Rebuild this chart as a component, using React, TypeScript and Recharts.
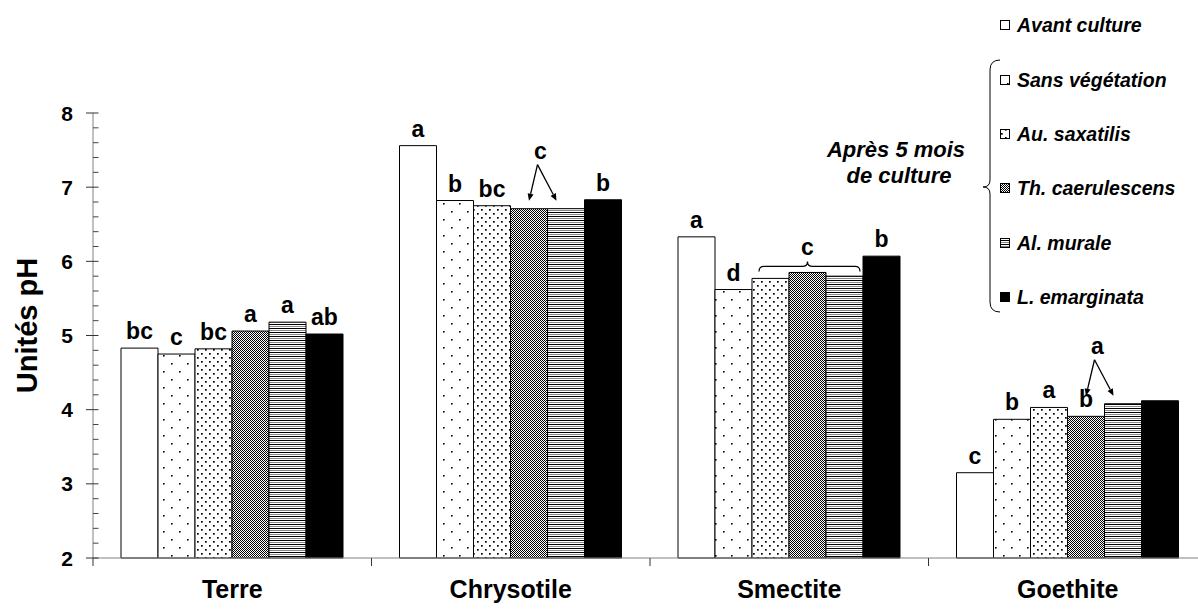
import { Bar, BarChart, LabelList, Legend, XAxis, YAxis } from "recharts";

const FONT = '"Liberation Sans", Arial, sans-serif';

const categories = ["Terre", "Chrysotile", "Smectite", "Goethite"];
const avant = [4.83, 7.56, 6.33, 3.15];
const sans = [4.75, 6.82, 5.62, 3.87];
const au = [4.82, 6.75, 5.77, 4.03];
const th = [5.06, 6.71, 5.85, 3.91];
const al = [5.18, 6.71, 5.8, 4.08];
const lem = [5.02, 6.83, 6.07, 4.12];

// letters of the statistical groups written over each bar
const avantL = ["bc", "a", "a", "c"];
const sansL = ["c", "b", "d", "b"];
const auL = ["bc", "bc", "", "a"];
const thL = ["a", "", "", "b"];
const alL = ["a", "", "", ""];
const lemL = ["ab", "b", "b", ""];
// shared letters: arrows from the Al. murale bar, brace over Th. caerulescens
const alArrow = ["", "c", "", "a"];
const thBrace = ["", "", "c", ""];

const yMajor = [2, 3, 4, 5, 6, 7, 8];
const yTicks = Array.from({ length: 31 }, (_, i) => +(2 + i * 0.2).toFixed(1));

const data = categories.map((cat, i) => ({
	cat,
	avant: avant[i],
	sans: sans[i],
	au: au[i],
	th: th[i],
	al: al[i],
	lem: lem[i],
}));

const series = [
	{ key: "avant", name: "Avant culture", fill: "#fff", letters: avantL },
	{ key: "sans", name: "Sans végétation", fill: "url(#pSans)", letters: sansL },
	{ key: "au", name: "Au. saxatilis", fill: "url(#pAu)", letters: auL },
	{ key: "th", name: "Th. caerulescens", fill: "url(#pTh)", letters: thL, brace: thBrace },
	{ key: "al", name: "Al. murale", fill: "url(#pAl)", letters: alL, arrows: alArrow },
	{ key: "lem", name: "L. emarginata", fill: "#000", letters: lemL },
];

const letterStyle = { fontFamily: FONT, fontSize: 23, fontWeight: 700, fill: "#000" };

function arrow(x1: number, y1: number, x2: number, y2: number) {
	const len = Math.hypot(x2 - x1, y2 - y1);
	const dx = (x2 - x1) / len;
	const dy = (y2 - y1) / len;
	const bx = x2 - dx * 7;
	const by = y2 - dy * 7;
	return (
		<g>
			<line x1={x1} y1={y1} x2={bx} y2={by} stroke="#000" strokeWidth={1.3} />
			<path
				d={`M${x2},${y2} L${bx - dy * 3},${by + dx * 3} L${bx + dy * 3},${by - dx * 3} Z`}
				fill="#000"
			/>
		</g>
	);
}

function makeLabel(letters: string[], arrows?: string[], brace?: string[]) {
	return (props: any) => {
		const vb = props.viewBox ?? props;
		const i = props.index;
		const x = Number(vb.x);
		const y = Number(vb.y);
		const w = Number(vb.width);
		if (arrows && arrows[i]) {
			const ax = x - 10;
			const ay = y - 44;
			return (
				<g>
					{arrow(ax, ay, x - w / 2, y - 8)}
					{arrow(ax, ay, x + 9, y - 8)}
					<text x={ax + 3} y={ay - 6} textAnchor="middle" style={letterStyle}>
						{arrows[i]}
					</text>
				</g>
			);
		}
		if (brace && brace[i]) {
			const x1 = x - w + 7;
			const x2 = x + 2 * w - 3;
			const xm = x + w / 2;
			const by = y - 6;
			return (
				<g>
					<path
						d={`M${x1},${by + 5} Q${x1},${by} ${x1 + 5},${by} L${xm - 5},${by} Q${xm},${by} ${xm},${by - 5} Q${xm},${by} ${xm + 5},${by} L${x2 - 5},${by} Q${x2},${by} ${x2},${by + 5}`}
						fill="none"
						stroke="#000"
						strokeWidth={1.2}
					/>
					<text x={xm} y={y - 17} textAnchor="middle" style={letterStyle}>
						{brace[i]}
					</text>
				</g>
			);
		}
		if (!letters[i]) return null;
		return (
			<text x={x + w / 2} y={y - 9} textAnchor="middle" style={letterStyle}>
				{letters[i]}
			</text>
		);
	};
}

// y axis: crossing major ticks with labels, short inner minor ticks
function YTick(props: any) {
	const { x, y, payload } = props;
	const v = payload.value;
	const major = yMajor.includes(v);
	return (
		<g>
			{major ? (
				<>
					<line x1={x - 7} y1={y} x2={x + 5.5} y2={y} stroke="#333" />
					<text
						x={x - 20}
						y={y}
						textAnchor="end"
						dominantBaseline="central"
						style={{ fontFamily: FONT, fontSize: 21, fontWeight: 700, fill: "#000" }}
					>
						{v}
					</text>
				</>
			) : (
				<line x1={x} y1={y} x2={x + 5.5} y2={y} stroke="#444" />
			)}
		</g>
	);
}

// x axis: tick marks on category boundaries, label in the middle
function XTick(props: any) {
	const { x, y, payload } = props;
	const half = Number(payload.offset) || 0;
	return (
		<g>
			{half > 0 && <line x1={x - half} y1={y} x2={x - half} y2={y + 8} stroke="#333" />}
			<text
				x={x}
				y={y + 40}
				textAnchor="middle"
				style={{ fontFamily: FONT, fontSize: 25, fontWeight: 700, fill: "#000" }}
			>
				{payload.value}
			</text>
		</g>
	);
}

function YTitle(props: any) {
	const vb = props.viewBox ?? { x: 0, y: 0, width: 0, height: 0 };
	const cx = vb.x + 26;
	const cy = vb.y + vb.height / 2 - 10;
	return (
		<text
			x={cx}
			y={cy}
			transform={`rotate(-90 ${cx} ${cy})`}
			textAnchor="middle"
			dominantBaseline="central"
			style={{ fontFamily: FONT, fontSize: 29, fontWeight: 700, fill: "#000" }}
		>
			Unités pH
		</text>
	);
}

const legendRows = [25, 80, 134, 188, 243, 297];

function LegendBox() {
	const txt = { fontFamily: FONT, fontSize: 19.5, fontWeight: 700, fontStyle: "italic", fill: "#000" };
	return (
		<svg width={340} height={330} style={{ display: "block", overflow: "visible" }}>
			{series.map((s, i) => (
				<g key={s.key}>
					<rect x={140.5} y={legendRows[i] - 4.5} width={9} height={9} fill={s.fill} stroke="#000" />
					<text x={157} y={legendRows[i]} dominantBaseline="central" style={txt}>
						{s.name}
					</text>
				</g>
			))}
			<path
				d="M140,60 Q130,60 130,70 L130,180 Q130,187 123,187 Q130,187 130,194 L130,302 Q130,312 140,312"
				fill="none"
				stroke="#000"
				strokeWidth={1}
			/>
			<text x={36} y={157} textAnchor="middle" style={{ ...txt, fontSize: 22 }}>
				Après 5 mois
			</text>
			<text x={39} y={183} textAnchor="middle" style={{ ...txt, fontSize: 22 }}>
				de culture
			</text>
		</svg>
	);
}

export default function App() {
	return (
		<div style={{ position: "fixed", left: 0, top: 0, width: 1198, height: 610, overflow: "hidden", background: "#fff" }}>
			<BarChart
				width={1207}
				height={610}
				data={data}
				margin={{ top: 113, right: 0, bottom: 0, left: 1 }}
				barCategoryGap={28}
				barGap={0}
			>
				<defs>
					<pattern id="pSans" width="16" height="16" patternUnits="userSpaceOnUse">
						<rect width="16" height="16" fill="#fff" />
						<rect x="3" y="3" width="1.6" height="1.6" fill="#000" />
						<rect x="11" y="11" width="1.6" height="1.6" fill="#000" />
					</pattern>
					<pattern id="pAu" width="8" height="8" patternUnits="userSpaceOnUse">
						<rect width="8" height="8" fill="#fff" />
						<rect x="1" y="1" width="1.7" height="1.7" fill="#000" />
						<rect x="5" y="5" width="1.7" height="1.7" fill="#000" />
					</pattern>
					<pattern id="pTh" width="2" height="2" patternUnits="userSpaceOnUse">
						<rect width="2" height="2" fill="#fff" />
						<rect x="0" y="0" width="1" height="1" fill="#000" />
						<rect x="1" y="1" width="1" height="1" fill="#000" />
					</pattern>
					<pattern id="pAl" width="4" height="4" patternUnits="userSpaceOnUse">
						<rect width="4" height="4" fill="#fff" />
						<rect x="0" y="0" width="4" height="1" fill="#000" />
						<rect x="0" y="2" width="4" height="1" fill="#888" />
					</pattern>
				</defs>
				<XAxis
					dataKey="cat"
					height={52}
					tickSize={0}
					tickMargin={0}
					tickLine={false}
					interval={0}
					axisLine={{ stroke: "#808080" }}
					tick={<XTick />}
				/>
				<YAxis
					type="number"
					domain={[2, 8]}
					ticks={yTicks}
					interval={0}
					width={92}
					tickSize={0}
					tickMargin={0}
					tickLine={false}
					axisLine={{ stroke: "#808080" }}
					tick={<YTick />}
					label={<YTitle />}
				/>
				<Legend
					content={<LegendBox />}
					layout="horizontal"
					align="center"
					verticalAlign="middle"
					wrapperStyle={{ left: 860, top: 0, width: 340, height: 330 }}
				/>
				{series.map((s) => (
					<Bar
						key={s.key}
						dataKey={s.key}
						name={s.name}
						fill={s.fill}
						stroke="#000"
						strokeWidth={1}
						isAnimationActive={false}
					>
						<LabelList dataKey={s.key} content={makeLabel(s.letters, s.arrows, s.brace)} />
					</Bar>
				))}
			</BarChart>
		</div>
	);
}
